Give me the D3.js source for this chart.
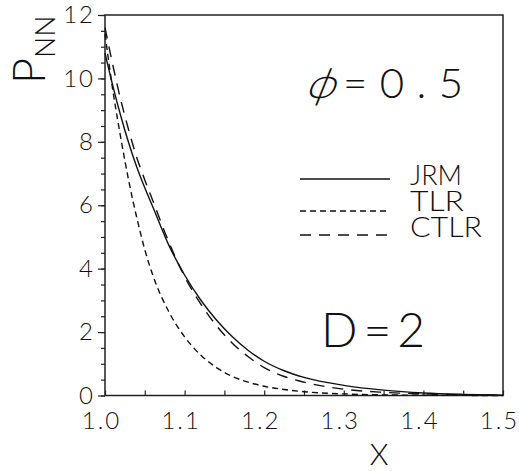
<!DOCTYPE html>
<html>
<head>
<meta charset="utf-8">
<script src="https://cdn.jsdelivr.net/npm/d3@7"></script>
<style>
  body { margin: 0; background: #fff; }
  svg { display: block; }
  text { fill: #111; font-family: Lato, "Liberation Sans", Arial, sans-serif; font-weight: 300; }
</style>
</head>
<body>
<svg></svg>
<script>
const w = 519;
const h = 471;
const margin = { top: 15, right: 16, bottom: 75.5, left: 105 };

// x values shared by all three curves
const xs = [1.0, 1.01, 1.02, 1.03, 1.04, 1.05, 1.06, 1.08, 1.10, 1.12, 1.14, 1.16, 1.18, 1.20, 1.225, 1.25, 1.30, 1.35, 1.40, 1.45, 1.50];
const jrm = [10.8, 9.75, 8.8, 7.95, 7.2, 6.55, 5.95, 4.75, 3.8, 3.02, 2.38, 1.85, 1.42, 1.08, 0.78, 0.57, 0.32, 0.17, 0.08, 0.035, 0.01];
const tlr = [11.4, 9.6, 8.1, 6.75, 5.6, 4.6, 3.8, 2.65, 1.85, 1.28, 0.88, 0.6, 0.42, 0.29, 0.19, 0.12, 0.05, 0.02, 0.008, 0.003, 0.0];
const ctlr = [11.6, 10.4, 9.3, 8.35, 7.5, 6.8, 6.15, 4.85, 3.75, 2.9, 2.2, 1.65, 1.22, 0.88, 0.6, 0.42, 0.2, 0.1, 0.05, 0.02, 0.005];

const xMajor = [1.0, 1.1, 1.2, 1.3, 1.4, 1.5];
const xMajorLabels = ['1.0', '1.1', '1.2', '1.3', '1.4', '1.5'];
const yMajor = [0, 2, 4, 6, 8, 10, 12];
const yMajorLabels = ['0', '2', '4', '6', '8', '10', '12'];

const series = [
	{ name: 'JRM', values: jrm, dash: null },
	{ name: 'TLR', values: tlr, dash: '6,4' },
	{ name: 'CTLR', values: ctlr, dash: '11,8' },
];

let canvas = d3.select('svg').attr('width', w).attr('height', h);

const xScale = d3.scaleLinear().domain([1.0, 1.5]).range([margin.left, w - margin.right]);
const yScale = d3.scaleLinear().domain([0, 12]).range([h - margin.bottom, margin.top]);

const x0 = xScale(1.0), x1 = xScale(1.5), y0 = yScale(0), y1 = yScale(12);

// frame
canvas
	.append('rect')
	.attr('x', x0)
	.attr('y', y1)
	.attr('width', x1 - x0)
	.attr('height', y0 - y1)
	.attr('fill', 'none')
	.attr('stroke', '#222')
	.attr('stroke-width', 1.5);

// x ticks (pointing inward), minor every 0.05
const xTickAxis = d3
	.axisBottom(xScale)
	.tickValues(d3.range(1.0, 1.5001, 0.05))
	.tickSizeInner(-5)
	.tickSizeOuter(0)
	.tickFormat('');
canvas.append('g').attr('transform', `translate(0,${y0})`).call(xTickAxis);

const xLabelAxis = d3
	.axisBottom(xScale)
	.tickValues(xMajor)
	.tickSize(0)
	.tickPadding(16)
	.tickFormat((d, i) => xMajorLabels[i]);
canvas
	.append('g')
	.attr('class', 'xlab')
	.attr('transform', `translate(0,${y0})`)
	.call(xLabelAxis);

// y ticks (outward), minor every 0.5
const yMinorAxis = d3
	.axisLeft(yScale)
	.tickValues(d3.range(0, 12.001, 0.5))
	.tickSizeInner(4)
	.tickSizeOuter(0)
	.tickFormat('');
canvas.append('g').attr('transform', `translate(${x0},0)`).call(yMinorAxis);

const yLabelAxis = d3
	.axisLeft(yScale)
	.tickValues(yMajor)
	.tickSizeInner(7)
	.tickSizeOuter(0)
	.tickPadding(3)
	.tickFormat((d, i) => yMajorLabels[i]);
canvas
	.append('g')
	.attr('class', 'ylab')
	.attr('transform', `translate(${x0},0)`)
	.call(yLabelAxis);

canvas.selectAll('.domain').remove();
canvas.selectAll('.tick line').attr('stroke', '#222').attr('stroke-width', 1.2);
canvas
	.selectAll('.xlab text, .ylab text')
	.attr('font-size', 24)
	.attr('letter-spacing', 2)
	.attr('fill', '#111')
	.attr('font-family', null);
canvas.selectAll('.xlab text').attr('dy', '0.71em').attr('dx', -4);

// curves
const line = d3
	.line()
	.x((d, i) => xScale(xs[i]))
	.y((d) => yScale(d))
	.curve(d3.curveMonotoneX);

canvas
	.selectAll('path.curve')
	.data(series)
	.enter()
	.append('path')
	.attr('class', 'curve')
	.attr('d', (s) => line(s.values))
	.attr('fill', 'none')
	.attr('stroke', '#111')
	.attr('stroke-width', 1.4)
	.attr('stroke-dasharray', (s) => s.dash);

// legend
const legendLineY = [179, 211, 235];
const legendTextY = [185, 211, 237];
const legend = canvas
	.selectAll('g.legend')
	.data(series)
	.enter()
	.append('g')
	.attr('class', 'legend');
legend
	.append('line')
	.attr('x1', 300)
	.attr('x2', 390)
	.attr('y1', (s, i) => legendLineY[i])
	.attr('y2', (s, i) => legendLineY[i])
	.attr('stroke', '#111')
	.attr('stroke-width', 1.4)
	.attr('stroke-dasharray', (s) => s.dash);
legend
	.append('text')
	.attr('x', 410)
	.attr('y', (s, i) => legendTextY[i])
	.attr('font-size', 27)
	.attr('textLength', (s) => (s.name === 'JRM' ? 52 : s.name === 'TLR' ? 54 : 72))
	.attr('lengthAdjust', 'spacingAndGlyphs')
	.text((s) => s.name);

// annotations
canvas
	.append('text')
	.attr('transform', 'translate(319,98) skewX(-22)')
	.attr('text-anchor', 'middle')
	.attr('font-size', 42)
	.attr('font-family', '"DejaVu Sans"')
	.attr('font-weight', 200)
	.text('ϕ');

canvas
	.append('text')
	.attr('x', 343)
	.attr('y', 98)
	.attr('font-size', 42)
	.attr('textLength', 120)
	.attr('lengthAdjust', 'spacing')
	.text('=0.5');

canvas
	.append('text')
	.attr('x', 321)
	.attr('y', 347)
	.attr('font-size', 48)
	.attr('textLength', 104)
	.attr('lengthAdjust', 'spacing')
	.text('D=2');

// axis titles
canvas
	.append('text')
	.attr('x', 379)
	.attr('y', 465)
	.attr('text-anchor', 'middle')
	.attr('font-size', 30)
	.text('X');

canvas
	.append('text')
	.attr('transform', 'translate(45,84) rotate(-90)')
	.attr('font-size', 45)
	.html('P<tspan font-size="28" dy="10">NN</tspan>');
</script>
</body>
</html>
